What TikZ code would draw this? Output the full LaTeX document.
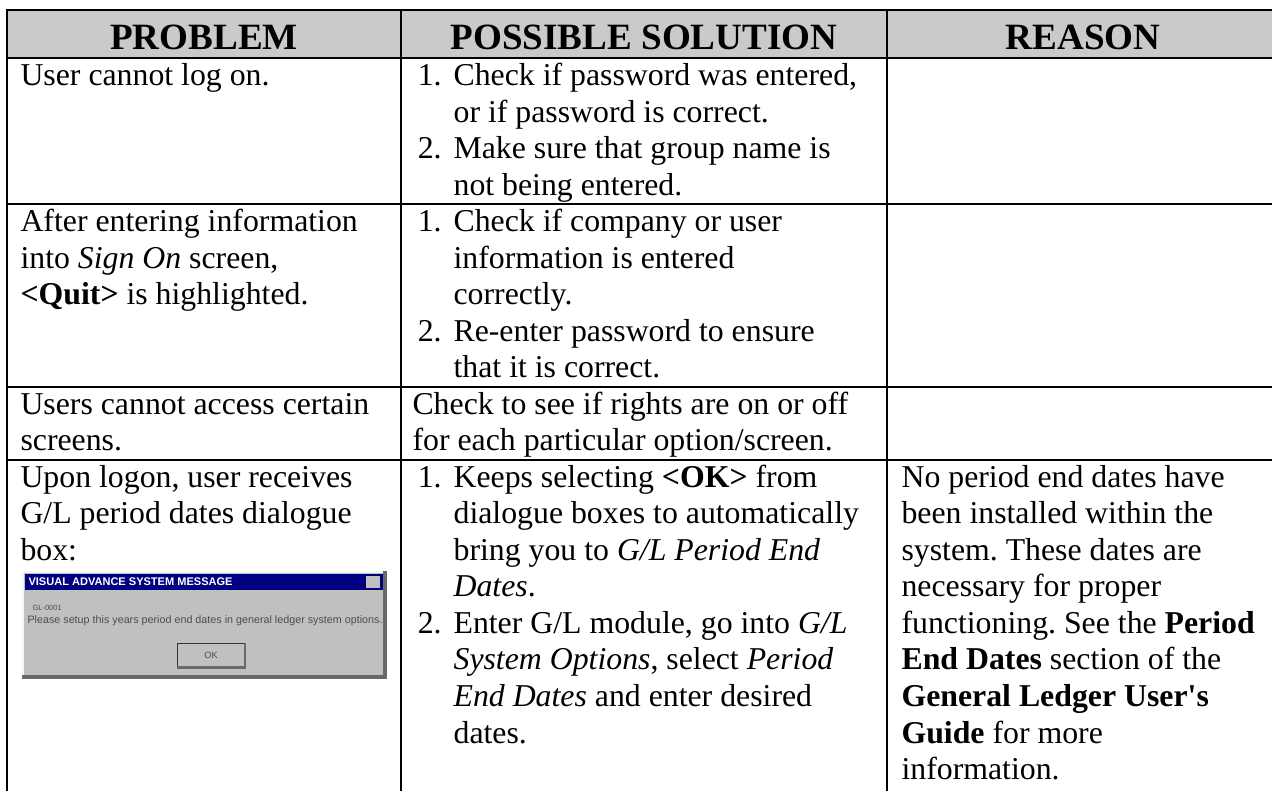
\documentclass[tikz,border=0pt]{standalone}
\usepackage{fontspec}
\setmainfont{Liberation Serif}
\setsansfont{Liberation Sans}
\usepackage{tikz}
\usepackage{xcolor}
\definecolor{headgray}{RGB}{202,202,202}
\definecolor{winnavy}{RGB}{0,0,128}
\definecolor{wingray}{RGB}{192,192,192}
\definecolor{windark}{RGB}{105,105,105}
\newcommand{\itemno}[1]{\hspace*{2pt}\makebox[13.5pt][l]{#1}}
\newcommand{\itemcont}{\hspace*{15.5pt}}
\frenchspacing

\begin{document}
\begin{tikzpicture}[x=0.3774pt,y=-0.3774pt,
  rule/.style={line width=0.75pt},
  head/.style={anchor=base,inner sep=0pt,font=\fontsize{14}{16.1}\selectfont\bfseries},
  cell/.style={anchor=north west,inner sep=0pt,align=left,font=\fontsize{12}{13.8}\selectfont},
  tiny/.style={inner sep=0pt,font=\sffamily}]
  \clip (0,0) rectangle (1272,790);
  \fill[white] (0,0) rectangle (1272,790);
  % header band and rules
  \fill[headgray] (7,10) rectangle (1280,58);
  \draw[line width=1.1pt] (6,10) -- (1280,10);
  \foreach \y in {58,204,386.5,459.5}
    \draw[rule] (7,\y) -- (1280,\y);
  \foreach \x in {7,401,887}
    \draw[rule] (\x,10) -- (\x,800);
  % headings
  \node[head] (hprob) at (204,49) {PROBLEM};
  \node[head] (hsol) at (644,49) {POSSIBLE SOLUTION};
  \node[head] (hrea) at (1083,49) {REASON};
  % row 1 (strut top = baseline - 25.6)
  \node[cell] (pa) at (20,59.5) {\strut User cannot log on.};
  \node[cell] (sa) at (412,59.5) {\strut\itemno{1.}Check if password was entered,\\
    \itemcont or if password is correct.\\
    \itemno{2.}Make sure that group name is\\
    \itemcont not being entered.};
  % row 2
  \node[cell] (pb) at (20,205.5) {\strut After entering information\\
    into \textit{Sign On} screen,\\
    \textbf{<Quit>} is highlighted.};
  \node[cell] (sb) at (412,205.5) {\strut\itemno{1.}Check if company or user\\
    \itemcont information is entered\\
    \itemcont correctly.\\
    \itemno{2.}Re-enter password to ensure\\
    \itemcont that it is correct.};
  % row 3
  \node[cell] (pc) at (20,388) {\strut Users cannot access certain\\
    screens.};
  \node[cell] (sc) at (412,388) {\strut Check to see if rights are on or off\\
    for each particular option/screen.};
  % row 4
  \node[cell] (pd) at (20,461) {\strut Upon logon, user receives\\
    G/L period dates dialogue\\
    box:};
  \node[cell] (sd) at (412,461) {\strut\itemno{1.}Keeps selecting \textbf{<OK>} from\\
    \itemcont dialogue boxes to automatically\\
    \itemcont bring you to \textit{G/L Period End}\\
    \itemcont \textit{Dates}.\\
    \itemno{2.}Enter G/L module, go into \textit{G/L}\\
    \itemcont \textit{System Options}, select \textit{Period}\\
    \itemcont \textit{End Dates} and enter desired\\
    \itemcont dates.};
  \node[cell] (rd) at (901,461) {\strut No period end dates have\\
    been installed within the\\
    system. These dates are\\
    necessary for proper\\
    functioning. See the \textbf{Period}\\
    \textbf{End Dates} section of the\\
    \textbf{General Ledger User\textquotesingle s}\\
    \textbf{Guide} for more\\
    information.};
  % dialogue box picture
  \coordinate (dlgA) at (22,571);
  \coordinate (dlgB) at (387,679);
  \fill[wingray] (dlgA) rectangle (dlgB);
  \fill[white!85!wingray] (22,571) rectangle (387,573);
  \fill[white!85!wingray] (22,571) rectangle (24,679);
  \fill[windark] (22,675) rectangle (387,679);
  \fill[windark] (383,571) rectangle (387,679);
  \fill[winnavy] (25,574) rectangle (383,590);
  \node[tiny,anchor=west,text=white] (dlgtitle) at (28,582)
    {\resizebox{77pt}{!}{\bfseries VISUAL ADVANCE SYSTEM MESSAGE}};
  \fill[wingray] (366,576) rectangle (380,588);
  \node[tiny,anchor=west,text=black!70] (dlgcode) at (32,608)
    {\resizebox{11pt}{!}{GL-0001}};
  \node[tiny,anchor=west,text=black!70] (dlgmsg) at (27,621)
    {\resizebox{134pt}{!}{Please setup this years period end dates in general ledger system options.}};
  \node[tiny,draw=black!80,fill=wingray,minimum width=25pt,minimum height=9pt,
    text=black!70] (okbtn) at (211,655) {\resizebox{5pt}{!}{OK}};
  \draw[windark,line width=0.8pt] (okbtn.south west) -- (okbtn.south east) -- (okbtn.north east);
\end{tikzpicture}
\end{document}
